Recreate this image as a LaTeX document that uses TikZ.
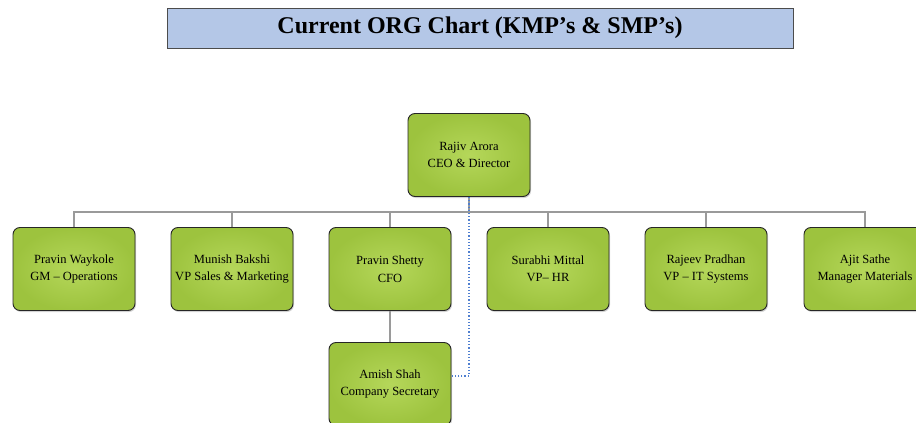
\documentclass[tikz,border=0pt]{standalone}
\usepackage{fontspec}
\setmainfont{Liberation Serif}
\usetikzlibrary{shadows}
\definecolor{boxgreen}{HTML}{9DC33E}
\definecolor{boxlight}{HTML}{B5D75A}
\definecolor{titleblue}{HTML}{B4C7E7}
\definecolor{linkgray}{HTML}{9A9A9A}
\definecolor{dotblue}{HTML}{4F7FD0}
\tikzset{
  member/.style={draw=black!85,line width=0.9pt,rectangle,rounded corners=7pt,
    inner color=boxlight,outer color=boxgreen,align=center,
    minimum width=122pt,minimum height=83pt,
    font=\fontsize{12.5}{17.5}\selectfont,
    drop shadow={shadow xshift=1pt,shadow yshift=-1.5pt,opacity=.35}},
  link/.style={draw=linkgray,line width=1.1pt},
}
\begin{document}
\begin{tikzpicture}[x=1pt,y=-1pt]
\useasboundingbox (0,0) rectangle (916,423);
\clip (0,0) rectangle (916,423);
\node[draw=black!70,line width=1pt,fill=titleblue,minimum width=626pt,minimum height=40pt,
  font=\fontsize{24}{27}\selectfont\bfseries] (title) at (480,28) {Current ORG Chart (KMP’s \& SMP’s)};
\node[member] (ceo) at (469,155) {Rajiv Arora\\CEO \& Director};
\node[member] (ops) at (74,269) {Pravin Waykole\\GM – Operations};
\node[member] (sales) at (232,269) {Munish Bakshi\\VP Sales \& Marketing};
\node[member] (cfo) at (390,269) {Pravin Shetty\\CFO};
\node[member] (hr) at (548,269) {Surabhi Mittal\\VP– HR};
\node[member] (it) at (706,269) {Rajeev Pradhan\\VP – IT Systems};
\node[member] (mat) at (865,269) {Ajit Sathe\\Manager Materials};
\node[member] (cs) at (390,384) {Amish Shah\\Company Secretary};
\coordinate (bus) at (469,212);
% reporting lines
\draw[link,line width=2pt] (ceo.south) -- (bus);
\foreach \n in {ops,sales,cfo,hr,it,mat}
  \draw[link] (bus) -| (\n.north);
\draw[link] (cfo) -- (cs);
\draw[dotblue,line width=1.2pt,dotted] (ceo.south) |- ([yshift=8pt]cs.east);
\end{tikzpicture}
\end{document}
